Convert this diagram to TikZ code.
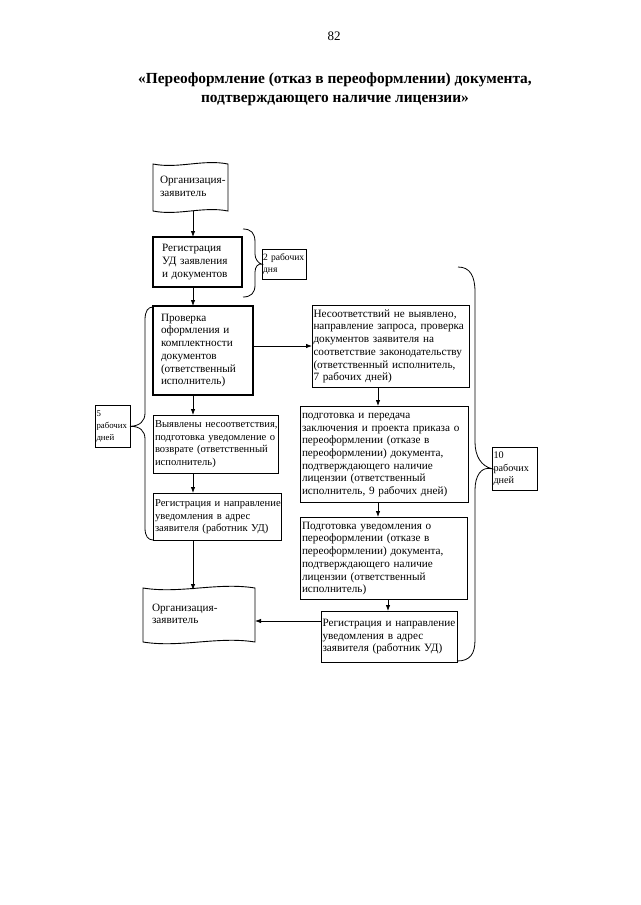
\documentclass[tikz,border=0pt]{standalone}
\usepackage{fontspec}
\setmainfont{Liberation Serif}
\usetikzlibrary{arrows.meta}
\newcommand\tx[1]{\begin{tabular}{@{}l@{}}#1\end{tabular}}
\newcommand\fs{\fontsize{11.2}{12.7}\selectfont}
\newcommand\fsl{\fontsize{10.6}{12.5}\selectfont}
\newcommand\fss{\fontsize{9.6}{12}\selectfont}
\begin{document}
\begin{tikzpicture}[x=1pt,y=-1pt,
  box/.style={draw, line width=0.9pt, anchor=north west, outer sep=0pt, align=left, font=\fs},
  smallbox/.style={box, line width=0.8pt, font=\fss},
  docnode/.style={anchor=north west, outer sep=0pt, align=left, font=\fs},
  shapeline/.style={line width=0.9pt},
  arr/.style={line width=0.8pt, -{Latex[length=6pt,width=4.5pt]}},
  br/.style={line width=0.8pt}]
\useasboundingbox (0,0) rectangle (640,905);
\fill[white] (0,0) rectangle (640,905);

\node[font=\fontsize{13}{15}\selectfont] (pg) at (334,36) {82};
\node[font=\bfseries\fontsize{15.4}{19}\selectfont, align=center] (title) at (335,89)
  {«Переоформление (отказ в переоформлении) документа,\\подтверждающего наличие лицензии»};

% documents
\node[docnode, minimum width=75pt, minimum height=47pt, inner xsep=7pt, text width=61pt] (docTop) at (153,164) {\tx{Организация-\\заявитель}};
\draw[shapeline] (docTop.north west) .. controls ([shift={(25,5)}]docTop.north west) and ([shift={(-25,-5)}]docTop.north east) .. (docTop.north east)
  -- (docTop.south east) .. controls ([shift={(-25,-5)}]docTop.south east) and ([shift={(25,5)}]docTop.south west) .. (docTop.south west) -- cycle;

\node[docnode, minimum width=112pt, minimum height=54pt, inner xsep=9pt, text width=94pt] (docBot) at (143,588) {\tx{Организация-\\заявитель}};
\draw[shapeline] (docBot.north west) .. controls ([shift={(37,6)}]docBot.north west) and ([shift={(-37,-6)}]docBot.north east) .. (docBot.north east)
  -- (docBot.south east) .. controls ([shift={(-37,-6)}]docBot.south east) and ([shift={(37,6)}]docBot.south west) .. (docBot.south west) -- cycle;

% left column
\node[box, line width=1.1pt, inner xsep=9pt, text width=71pt, minimum height=50pt] (reg) at (153,237) {\tx{Регистрация\\УД заявления\\и документов}};
\node[box, line width=1.1pt, inner xsep=8pt, text width=84pt, minimum height=89pt] (prov) at (153,306) {\tx{Проверка\\оформления и\\комплектности\\документов\\(ответственный\\исполнитель)}};
\node[box, font=\fsl, inner xsep=2pt, text width=121pt, minimum height=58pt] (vyyav) at (153,415) {\tx{Выявлены несоответствия,\\подготовка уведомление о\\возврате (ответственный\\исполнитель)}};
\node[box, font=\fsl, inner xsep=2pt, text width=124pt, minimum height=47pt] (regL) at (153,493) {\tx{Регистрация и направление\\уведомления в адрес\\заявителя (работник УД)}};

% right column
\node[box, inner xsep=1.5pt, text width=154pt, minimum height=80pt] (nes) at (312,305) {\tx{Несоответствий не выявлено,\\направление запроса, проверка\\документов заявителя на\\соответствие законодательству\\(ответственный исполнитель,\\7 рабочих дней)}};
\node[box, inner xsep=2pt, text width=164pt, minimum height=96pt] (podg) at (300,406) {\tx{подготовка и передача\\заключения и проекта приказа о\\переоформлении (отказе в\\переоформлении) документа,\\подтверждающего наличие\\лицензии (ответственный\\исполнитель, 9 рабочих дней)}};
\node[box, inner xsep=2pt, text width=163pt, minimum height=75pt] (podgUv) at (300,517) {\tx{Подготовка уведомления о\\переоформлении (отказе в\\переоформлении) документа,\\подтверждающего наличие\\лицензии (ответственный\\исполнитель)}};
\node[box, inner xsep=1.5pt, text width=133pt, minimum height=51pt] (regR) at (321,611) {\tx{Регистрация и направление\\уведомления в адрес\\заявителя (работник УД)}};

% duration boxes
\node[smallbox, inner xsep=1pt, text width=42pt, minimum height=28pt] (d2) at (262,249) {\tx{2 рабочих\\дня}};
\node[smallbox, font=\fontsize{8.8}{12}\selectfont, inner xsep=1.5pt, text width=32pt, minimum height=42pt] (d5) at (95,405) {\tx{5\\рабочих\\дней}};
\node[smallbox, font=\fontsize{10.2}{12.3}\selectfont, inner xsep=1.5pt, text width=42pt, minimum height=38pt] (d10) at (492,447) {\tx{10\\рабочих\\дней}};

% connectors
\coordinate (cL) at (193,0);
\coordinate (cR1) at (378,0);
\coordinate (cR2) at (388,0);
\coordinate (rA) at (0,346);
\coordinate (rB) at (0,621);
\draw[arr] (docTop.south -| cL) -- (reg.north -| cL);
\draw[arr] (reg.south -| cL) -- (prov.north -| cL);
\draw[arr] (prov.south -| cL) -- (vyyav.north -| cL);
\draw[arr] (vyyav.south -| cL) -- (regL.north -| cL);
\draw[arr] (regL.south -| cL) -- ([yshift=-2pt]docBot.north -| cL);
\draw[arr] (prov.east |- rA) -- (nes.west |- rA);
\draw[arr] (nes.south -| cR1) -- (podg.north -| cR1);
\draw[arr] (podg.south -| cR1) -- (podgUv.north -| cR1);
\draw[arr] (podgUv.south -| cR2) -- (regR.north -| cR2);
\draw[arr] (regR.west |- rB) -- (docBot.east |- rB);

% braces
\draw[br] (243,229) .. controls (251,229) and (255,233) .. (255,242) -- (255,254)
  .. controls (255,259) and (258,263) .. (d2.west)
  .. controls (258,263) and (255,267) .. (255,272) -- (255,285)
  .. controls (255,293) and (251,297) .. (243,297);
\draw[br] (153,307) .. controls (148,307) and (145,311) .. (145,320) -- (145,413)
  .. controls (145,421) and (140,426) .. (d5.east)
  .. controls (140,426) and (145,431) .. (145,439) -- (145,528)
  .. controls (145,536) and (148,540) .. (153,540);
\draw[br] (458,267) .. controls (470,267) and (475,276) .. (475,292) -- (475,442)
  .. controls (475,456) and (481,466) .. (d10.west)
  .. controls (481,466) and (475,476) .. (475,490) -- (475,640)
  .. controls (475,654) and (470,661) .. (457,661);
\end{tikzpicture}
\end{document}
